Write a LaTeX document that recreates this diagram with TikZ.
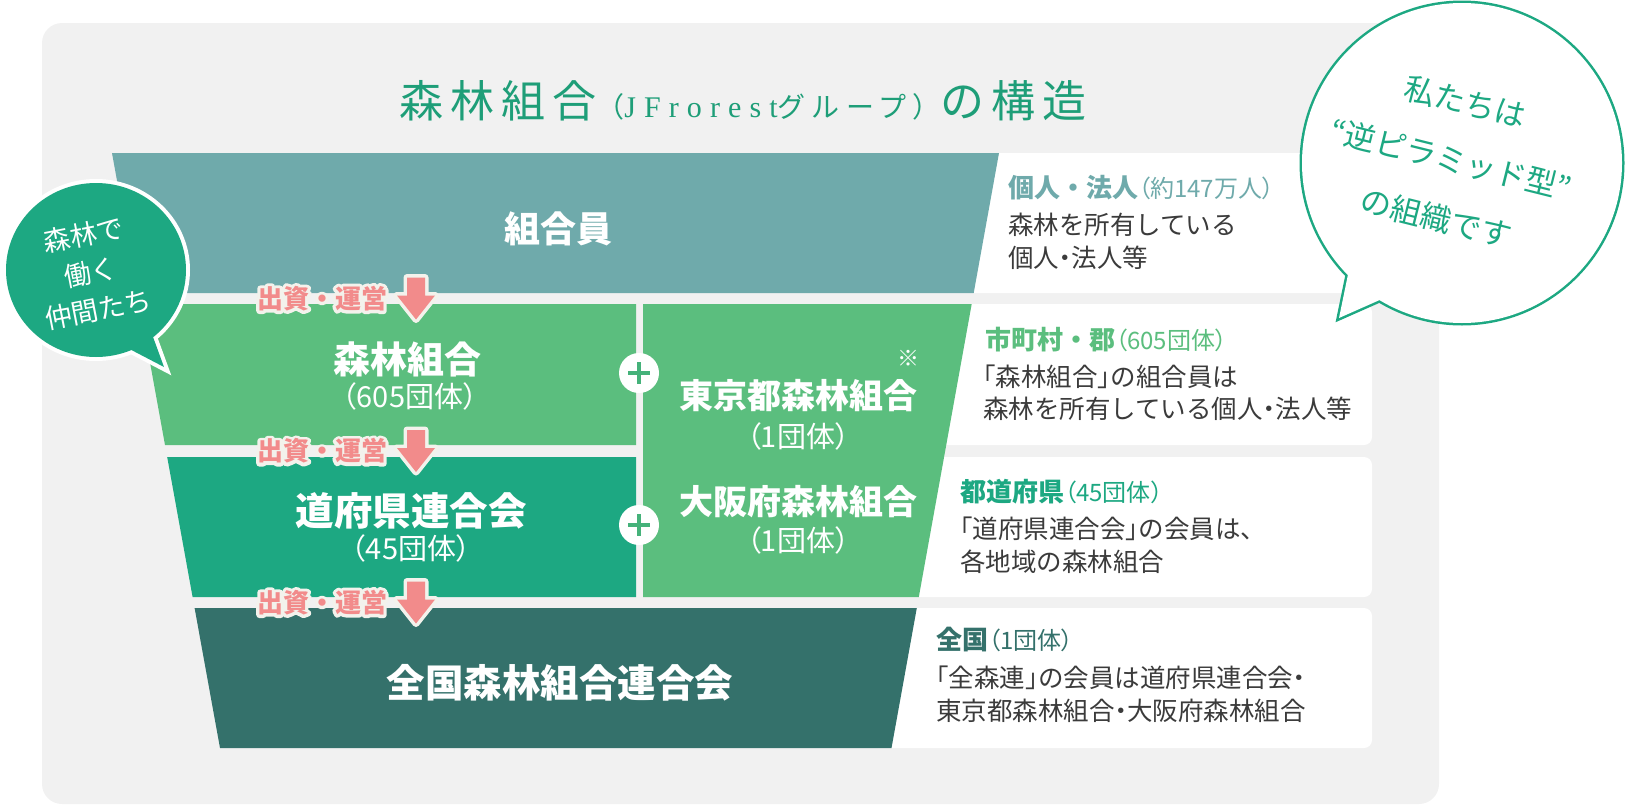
\documentclass[tikz,border=0pt]{standalone}
\usepackage{fontspec}
\setmainfont{Noto Sans CJK JP}
\newfontfamily\paltfont{Noto Sans CJK JP}[RawFeature=+palt]
\newfontfamily\titlefont{Noto Sans CJK JP}[LetterSpace=16]
\newfontfamily\titlekana{Noto Sans CJK JP}[LetterSpace=22]
\newfontfamily\titleserif{Liberation Serif}[LetterSpace=27]
\newfontfamily\bubblefont{Noto Sans CJK JP}
\usepackage{tikz}
\definecolor{JFBg}{HTML}{F1F1F1}
\definecolor{JFMember}{HTML}{6FAAAB}
\definecolor{JFLocal}{HTML}{5BBE7E}
\definecolor{JFPref}{HTML}{1DA882}
\definecolor{JFNation}{HTML}{34716B}
\definecolor{JFTitle}{HTML}{1E9E78}
\definecolor{JFPlus}{HTML}{45B27A}
\definecolor{JFPink}{HTML}{F28B8B}
\definecolor{JFHalo}{HTML}{F3F2EC}
\definecolor{JFText}{HTML}{3B3B3B}
\tikzset{
  bandlbl/.style={text=white, inner sep=0pt, font=\bfseries\fontsize{36}{40}\selectfont},
  bandlblxl/.style={bandlbl, font=\bfseries\fontsize{38.5}{42}\selectfont},
  bandlblsm/.style={bandlbl, font=\bfseries\fontsize{34}{38}\selectfont},
  countlbl/.style={text=white, inner sep=0pt, font=\fontsize{29}{32}\paltfont},
  infobox/.style={fill=white, rounded corners=8pt},
  infohd/.style={anchor=west, inner sep=0pt, font=\bfseries\fontsize{26}{30}\selectfont},
  infoline/.style={anchor=west, inner sep=0pt, text=JFText, font=\fontsize{25.5}{28}\selectfont},
  pluscirc/.style={circle, fill=white, minimum size=40pt, inner sep=0pt},
  flowtxt/.style={inner sep=0pt, font=\bfseries\fontsize{26}{30}\selectfont},
}
\newcommand{\cnt}[1]{{\mdseries\fontsize{24}{28}\paltfont （#1）}}
\newcommand{\jfopen}{{\paltfont 「}}
\newcommand{\jfclose}{{\paltfont 」}}
\newcommand{\jfdot}{{\paltfont ・}}
\newcommand{\halo}[1]{\special{pdf:literal direct 1 j 6.4 w 2 Tr}#1\special{pdf:literal direct 0 Tr}}
\begin{document}
\begin{tikzpicture}[x=1pt, y=-1pt]
  \useasboundingbox (0,0) rectangle (1625,806);
  %% backdrop
  \fill[JFBg, rounded corners=20pt] (42,23) rectangle (1439,804);
  %% title
  \node[text=JFTitle, inner sep=0pt] (title) at (743,101)
    {{\fontsize{44}{48}\titlefont 森林組合}{\fontsize{28}{32}\titlekana （{\fontsize{30}{32}\titleserif JFrorest}グループ）}{\fontsize{44}{48}\titlefont の構造}};
  %% info boxes (behind the bands)
  \fill[infobox] (940,153) rectangle (1372,293);
  \fill[infobox] (940,304) rectangle (1372,445);
  \fill[infobox] (900,457) rectangle (1372,597);
  \fill[infobox] (870,608) rectangle (1372,748);
  %% bands of the inverted pyramid
  \fill[JFMember] (112,153) -- (999,153) -- (973.7,293) -- (137.4,293) -- cycle;
  \fill[JFLocal] (139.4,304) -- (636,304) -- (636,445) -- (165,445) -- cycle;
  \fill[JFPref] (167.2,457) -- (636,457) -- (636,597) -- (192.6,597) -- cycle;
  \fill[JFLocal] (643,304) -- (971.7,304) -- (918.8,597) -- (643,597) -- cycle;
  \fill[JFNation] (194.6,608) -- (916.8,608) -- (891.5,748) -- (220,748) -- cycle;
  %% plus marks
  \node[pluscirc] (plusA) at (639,373) {};
  \node[pluscirc] (plusB) at (639,525) {};
  \foreach \p in {plusA,plusB}
    \draw[JFPlus, line width=4.5pt] (\p.center) +(-11,0) -- +(11,0) +(0,-11) -- +(0,11);
  %% band labels
  \node[bandlbl] (lblMember) at (558,229) {組合員};
  \node[bandlbl, font=\bfseries\fontsize{37}{40}\selectfont] (lblLocal) at (407,359) {森林組合};
  \node[countlbl] (cntLocal) at (410,396) {（605団体）};
  \node[bandlblsm] (lblTokyo) at (798,396) {東京都森林組合};
  \node[countlbl] (cntTokyo) at (798,436) {（1団体）};
  \node[bandlblsm] (lblOsaka) at (798,502) {大阪府森林組合};
  \node[countlbl] (cntOsaka) at (798,540) {（1団体）};
  \node[bandlblxl] (lblPref) at (411,511) {道府県連合会};
  \node[countlbl] (cntPref) at (411,548) {（45団体）};
  \node[bandlblxl] (lblNation) at (560,683) {全国森林組合連合会};
  \node[text=white, inner sep=0pt, font=\fontsize{22}{24}\selectfont] (note) at (908,358) {※};
  %% info texts
  \node[infohd, text=JFMember] (hdMember) at (1008,188) {個人・法人\cnt{約147万人}};
  \node[infoline] (txMemberA) at (1008,225) {森林を所有している};
  \node[infoline] (txMemberB) at (1008,258) {個人\jfdot 法人等};
  \node[infohd, text=JFLocal] (hdLocal) at (985,340) {市町村・郡\cnt{605団体}};
  \node[infoline] (txLocalA) at (983,377) {\jfopen 森林組合\jfclose の組合員は};
  \node[infoline] (txLocalB) at (983,409) {森林を所有している個人\jfdot 法人等};
  \node[infohd, text=JFPref] (hdPref) at (960,492) {都道府県\cnt{45団体}};
  \node[infoline] (txPrefA) at (960,529) {\jfopen 道府県連合会\jfclose の会員は、};
  \node[infoline] (txPrefB) at (960,562) {各地域の森林組合};
  \node[infohd, text=JFNation] (hdNation) at (936,640) {全国\cnt{1団体}};
  \node[infoline] (txNationA) at (936,678) {\jfopen 全森連\jfclose の会員は道府県連合会\jfdot};
  \node[infoline] (txNationB) at (936,711) {東京都森林組合\jfdot 大阪府森林組合};
  %% flow arrows between the bands
  \foreach \g/\nm in {298.5/flowA, 451/flowB, 602.5/flowC} {
    \coordinate (\nm) at (416,\g);
    \draw[JFHalo, line width=7pt, line join=round] (\nm) ++(-9,-21) -- ++(18,0) -- ++(0,18) -- ++(10,0) -- ++(-19,24) -- ++(-19,-24) -- ++(10,0) -- cycle;
    \fill[JFPink] (\nm) ++(-9,-21) -- ++(18,0) -- ++(0,18) -- ++(10,0) -- ++(-19,24) -- ++(-19,-24) -- ++(10,0) -- cycle;
    \node[flowtxt, text=JFHalo] (\nm-h) at (322,\g) {\halo{出資・運営}};
    \node[flowtxt, text=JFPink] (\nm-t) at (322,\g) {出資・運営};
  }
  %% left bubble
  \draw[white, line width=8pt] (96,270) ellipse [x radius=90, y radius=87];
  \draw[white, line width=8pt, line join=miter] (145,315) -- (164,367) -- (118,343) -- cycle;
  \fill[JFPref] (96,270) ellipse [x radius=90, y radius=87];
  \fill[JFPref] (145,315) -- (164,367) -- (118,343) -- cycle;
  \node[text=white, rotate=11, align=center, inner sep=0pt, font=\bubblefont\fontsize{27}{38}\selectfont] (crew) at (91,272) {森林で\\働く\\仲間たち};
  %% right bubble
  \draw[JFPref, line width=5pt] (1462,163) circle [radius=160];
  \draw[JFPref, line width=5pt, line join=miter] (1352,255) -- (1339,318) -- (1400,291);
  \fill[white] (1462,163) circle [radius=160];
  \fill[white] (1352,255) -- (1339,318) -- (1400,291) -- cycle;
  \node[text=JFPref, rotate=-14, align=center, inner sep=0pt, font=\bubblefont\fontsize{31}{60}\selectfont] (motto) at (1451,160) {私たちは\\“逆ピラミッド型”\\の組織です};
\end{tikzpicture}
\end{document}
